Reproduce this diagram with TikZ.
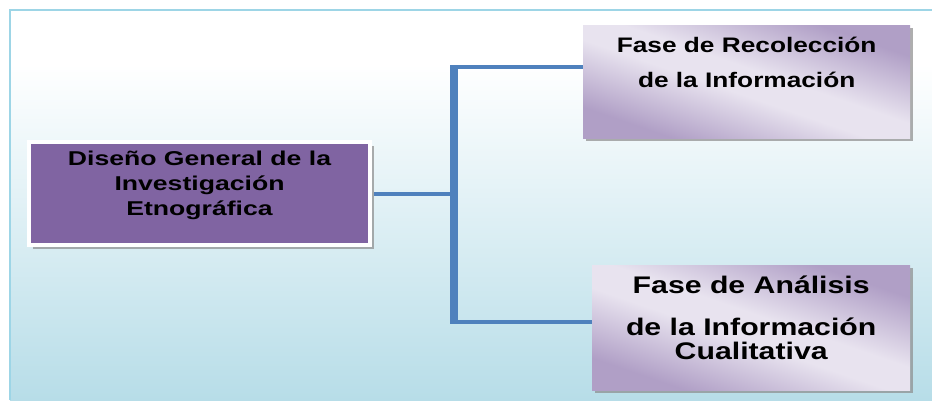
\documentclass[tikz,border=0pt]{standalone}
\usepackage{fontspec}
\setmainfont{Liberation Sans}
\newfontfamily\disenofont[FakeStretch=1.33]{Liberation Sans}
\newfontfamily\recolfont[FakeStretch=1.25]{Liberation Sans}
\newfontfamily\analfont[FakeStretch=1.26]{Liberation Sans}
\usetikzlibrary{shadows}
\definecolor{bgblue}{HTML}{B7DDE8}
\definecolor{rimblue}{HTML}{9DD5E6}
\definecolor{linkblue}{HTML}{4F81BD}
\definecolor{plum}{HTML}{8064A2}
\definecolor{lavdark}{HTML}{B09FC6}
\definecolor{lavlight}{HTML}{E8E3EF}
\pgfdeclareverticalshading{backdrop}{100bp}{color(0bp)=(bgblue); color(25bp)=(bgblue); color(68bp)=(white); color(100bp)=(white)}
\pgfdeclarehorizontalshading{lavender}{100bp}{color(0bp)=(lavdark); color(27bp)=(lavdark); color(46bp)=(lavlight); color(54bp)=(lavlight); color(73bp)=(lavdark); color(100bp)=(lavdark)}

\begin{document}
\begin{tikzpicture}[x = 1pt, y = -1pt,
    link/.style = {draw = linkblue, line width = 4pt},
    trunk/.style = {draw = linkblue, line width = 8pt},
    title/.style = {fill = plum, draw = white, line width = 4pt, inner sep = 0pt, anchor = north west,
                    drop shadow = {shadow xshift = 4pt, shadow yshift = -4pt, fill = black!45, opacity = .7}},
    phase/.style = {shading = lavender, shading angle = 71, inner sep = 0pt, anchor = north west,
                    drop shadow = {shadow xshift = 2.5pt, shadow yshift = -2.5pt, fill = black!45, opacity = .7}}]
        \useasboundingbox (0,0) rectangle (932,400);
        \fill[white] (0,0) rectangle (932,400);
        \shade[shading = backdrop] (10,10) rectangle (932,400);
        \draw[rimblue, line width = 1.2pt] (10,400) -- (10,10) -- (932,10);

        \node[title] (diseno) at (27,140)
            {\parbox[t][103pt][t]{341pt}{\centering\disenofont\bfseries\fontsize{20}{25}\selectfont
             \rule{0pt}{23.5pt}Diseño General de la\\Investigación\\Etnográfica}};
        \node[phase] (recoleccion) at (583,25)
            {\parbox[t][113pt][t]{327pt}{\centering\recolfont\bfseries\fontsize{21}{35}\selectfont
             \rule{0pt}{27pt}Fase de Recolección\\de la Información}};
        \node[phase] (analisis) at (592,265)
            {\parbox[t][125pt][t]{318pt}{\centering\analfont\bfseries\fontsize{24}{24}\selectfont
             \rule{0pt}{28pt}Fase de Análisis\\[18pt]de la Información\\Cualitativa}};

        \coordinate (split) at (454,194);
        \coordinate (upper) at (454,67);
        \coordinate (lower) at (454,322);
        \draw[trunk, shorten <= -2pt, shorten >= -2pt] (upper) -- (lower);
        \draw[link, shorten <= 2pt] (diseno.east |- split) -- (split);
        \draw[link] (upper) -- (upper -| recoleccion.west);
        \draw[link] (lower) -- (lower -| analisis.west);
\end{tikzpicture}
\end{document}
